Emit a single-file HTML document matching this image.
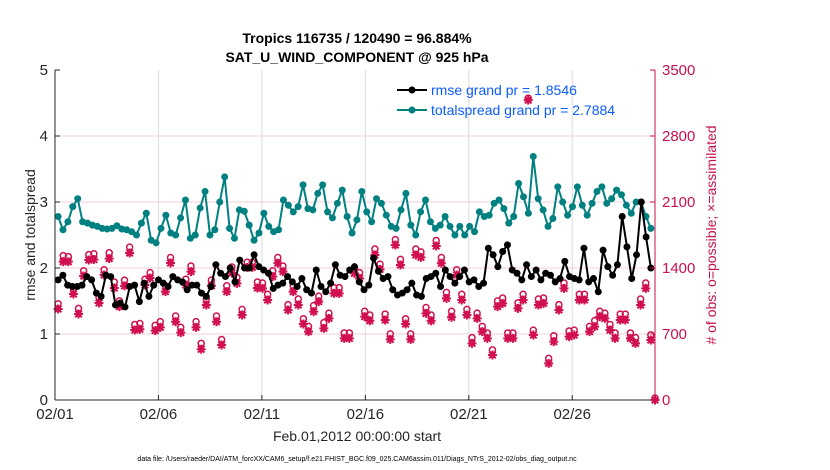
<!DOCTYPE html>
<html><head><meta charset="utf-8">
<style>
body{margin:0;background:#fff;}
svg{display:block;font-family:"Liberation Sans",Arial,sans-serif;}
</style></head>
<body>
<svg id="chart" width="830" height="470" viewBox="0 0 830 470" xmlns="http://www.w3.org/2000/svg">
<g id="grid"></g>
<g id="marks"></g>
<line x1="55" y1="70" x2="55" y2="400" stroke="#262626" stroke-width="1"/>
<line x1="55" y1="400" x2="655" y2="400" stroke="#262626" stroke-width="1"/>
<line x1="655" y1="70" x2="655" y2="400" stroke="#c8104e" stroke-width="1"/>
<g id="ticks"></g>
<text x="357" y="43" text-anchor="middle" font-size="14" font-weight="bold" fill="#000">Tropics 116735 / 120490 = 96.884%</text>
<text x="357" y="62" text-anchor="middle" font-size="14" font-weight="bold" fill="#000">SAT_U_WIND_COMPONENT @ 925 hPa</text>
<text transform="translate(35,235) rotate(-90)" text-anchor="middle" font-size="14" fill="#262626">rmse and totalspread</text>
<text transform="translate(716,235) rotate(-90)" text-anchor="middle" font-size="14" fill="#c8104e"># of obs: o=possible; ×=assimilated</text>
<text x="357" y="441" text-anchor="middle" font-size="14" fill="#262626">Feb.01,2012 00:00:00 start</text>
<text x="357" y="461" text-anchor="middle" font-size="7" fill="#000">data file: /Users/raeder/DAI/ATM_forcXX/CAM6_setup/f.e21.FHIST_BGC.f09_025.CAM6assim.011/Diags_NTrS_2012-02/obs_diag_output.nc</text>
<g>
<line x1="397" y1="90" x2="427" y2="90" stroke="#000" stroke-width="2"/>
<circle cx="412" cy="90" r="3.5" fill="#000"/>
<text x="431" y="95" font-size="14" fill="#0b5cff">rmse grand pr = 1.8546</text>
<line x1="397" y1="110" x2="427" y2="110" stroke="#008080" stroke-width="2"/>
<circle cx="412" cy="110" r="3.5" fill="#008080"/>
<text x="431" y="115" font-size="14" fill="#0b5cff">totalspread grand pr = 2.7884</text>
</g>
</svg>
<script>
const xTickLabels=["02/01","02/06","02/11","02/16","02/21","02/26"];
const xTickDays=[0,5,10,15,20,25];
const yTicks=[0,1,2,3,4,5];
const y2Ticks=[0,700,1400,2100,2800,3500];
const spread=[2.78,2.58,2.70,2.93,3.05,2.70,2.68,2.65,2.63,2.60,2.59,2.60,2.64,2.59,2.58,2.55,2.50,2.68,2.83,2.42,2.38,2.60,2.80,2.53,2.50,2.76,3.03,2.45,2.50,2.91,3.16,2.50,2.58,3.00,3.38,2.60,2.45,2.88,2.86,2.65,2.42,2.53,
2.83,2.63,2.55,2.58,3.03,2.95,2.85,2.93,3.26,2.90,2.88,3.13,3.26,2.85,2.76,2.98,3.18,2.78,2.53,2.73,3.16,2.85,2.70,3.05,2.98,2.80,2.63,2.60,2.88,3.13,2.65,2.50,2.85,3.03,2.70,2.60,2.65,2.78,2.63,2.50,2.63,
2.50,2.63,2.55,2.85,2.78,2.80,2.98,3.03,2.90,2.68,2.78,3.28,3.08,2.83,3.69,3.05,2.88,2.63,2.75,3.23,3.00,2.80,2.93,3.23,2.95,2.80,2.98,3.16,3.23,2.98,3.05,3.18,3.11,2.95,2.83,3.00,3.00,2.78,2.60];
const rmse=[1.82,1.89,1.74,1.72,1.72,1.74,1.87,1.82,1.62,1.57,1.89,1.87,1.44,1.47,1.41,1.72,1.74,1.49,1.77,1.57,1.74,1.82,1.77,1.72,1.87,1.82,1.79,1.67,1.74,1.74,1.62,1.57,1.72,2.05,1.92,1.87,2.00,1.79,2.12,2.00,2.00,2.20,2.02,1.97,1.92,
1.69,1.74,1.77,1.87,1.79,1.72,1.84,1.67,1.62,1.97,1.72,1.64,1.77,2.05,1.89,1.87,1.97,2.02,1.79,1.67,1.74,2.15,1.95,1.84,1.87,1.67,1.59,1.62,1.67,1.77,1.59,1.57,1.84,1.87,1.92,1.72,1.97,1.87,1.77,1.87,1.97,1.79,
1.82,1.72,1.77,2.30,2.20,2.02,2.25,2.35,1.97,1.92,1.82,2.05,1.87,1.97,1.82,1.92,1.89,1.79,1.84,2.10,1.87,1.84,1.82,2.30,1.79,1.84,1.64,2.27,2.02,1.89,2.05,2.78,2.32,1.84,2.20,3.00,2.47,2.00];
const assimilated=[965,1467,1467,1124,912,1315,1485,1490,1029,1326,1500,1188,990,1210,1559,742,750,1220,1294,736,770,1149,1453,830,714,1220,1361,770,538,1008,1213,830,583,1149,1347,1237,901,1407,1407,1188,
1184,1061,1308,1450,1361,955,1149,1008,806,725,937,1043,760,866,1131,1131,654,654,1343,1290,884,841,1538,1386,848,643,1644,1432,806,643,1538,1513,919,841,1633,1450,1078,877,1326,
1061,901,601,866,725,654,477,990,1025,654,654,972,1061,3180,689,1008,1025,389,619,955,1184,672,689,1061,1061,725,778,884,866,742,654,848,848,654,601,1008,1184,636,0];
const possible=[1000,1510,1500,1160,950,1350,1520,1530,1070,1360,1540,1230,1030,1250,1600,780,790,1260,1330,770,810,1190,1490,870,750,1260,1400,810,580,1050,1250,870,620,1190,1390,1280,940,1440,1440,1230,
1220,1100,1350,1490,1400,990,1190,1050,840,760,980,1080,800,900,1170,1170,690,690,1380,1330,920,880,1580,1420,890,680,1680,1470,840,680,1580,1550,960,880,1670,1490,1120,920,1360,
1100,940,640,900,760,690,510,1030,1060,690,690,1010,1100,3180,720,1050,1060,420,660,990,1220,710,720,1100,1100,760,820,920,900,780,690,890,890,690,640,1050,1220,670,0];

const NS="http://www.w3.org/2000/svg";
const X0=55,X1=655,Y0=400,Y1=70,DAYS=29;
function xScale(d){return X0+(X1-X0)*d/DAYS;}
function yScale(v){return Y0-(Y0-Y1)*v/5;}
function y2Scale(v){return Y0-(Y0-Y1)*v/3500;}
function dayOf(i,n,last){return 0.15+i*((last)-0.15)/(n-1);}
function mk(tag,attrs,parent){const e=document.createElementNS(NS,tag);for(const k in attrs)e.setAttribute(k,attrs[k]);parent.appendChild(e);return e;}
const grid=document.getElementById('grid'),marks=document.getElementById('marks'),ticks=document.getElementById('ticks');
xTickDays.forEach((d,i)=>{
  if(d>0){const g=mk('line',{x1:xScale(d),x2:xScale(d),y1:Y1,y2:Y0,stroke:'#dcdcdc','stroke-width':1},grid);
  
  }
  const t=mk('text',{x:xScale(d),y:419,'text-anchor':'middle','font-size':15,fill:'#262626'},ticks);
  t.textContent=xTickLabels[i];
  
  
  mk('line',{x1:xScale(d),x2:xScale(d),y1:Y0,y2:Y0-5,stroke:'#262626'},ticks);
});
yTicks.forEach(v=>{
  if(v>0&&v<5){const g=mk('line',{x1:X0,x2:X1,y1:yScale(v),y2:yScale(v),stroke:'#f0d0dc','stroke-width':1},grid);
  
  }
  const t=mk('text',{x:48,y:yScale(v)+5,'text-anchor':'end','font-size':15,fill:'#262626'},ticks);
  t.textContent=v;
  
  
  mk('line',{x1:X0,x2:X0+5,y1:yScale(v),y2:yScale(v),stroke:'#262626'},ticks);
});
y2Ticks.forEach(v=>{
  const t=mk('text',{x:662,y:y2Scale(v)+5,'text-anchor':'start','font-size':15,fill:'#c8104e'},ticks);
  t.textContent=v;
  
  
  mk('line',{x1:X1-5,x2:X1,y1:y2Scale(v),y2:y2Scale(v),stroke:'#c8104e'},ticks);
});
function star(cx,cy,name){
  const g=mk('g',{},marks);
  
  
  mk('path',{d:`M${cx-4.5} ${cy}H${cx+4.5}M${cx} ${cy-4.5}V${cy+4.5}M${cx-3.3} ${cy-3.3}L${cx+3.3} ${cy+3.3}M${cx-3.3} ${cy+3.3}L${cx+3.3} ${cy-3.3}`,stroke:'#d0104f','stroke-width':2},g);
  mk('circle',{cx:cx,cy:cy,r:3,fill:'#d0104f'},g);
}
assimilated.forEach((v,i)=>{
  const x=xScale(i===assimilated.length-1?29:dayOf(i,assimilated.length-1,28.8));
  star(x,y2Scale(v),'assimilated-marker');
});
possible.forEach((v,i)=>{
  const x=xScale(i===possible.length-1?29:dayOf(i,possible.length-1,28.8));
  const c=mk('circle',{cx:x,cy:y2Scale(v)-2,r:3,fill:'none',stroke:'#d0104f','stroke-width':1.5},marks);
  
  
});
function series(arr,color,name){
  const pts=arr.map((v,i)=>[xScale(dayOf(i,arr.length,28.8)),yScale(v)]);
  const p=mk('polyline',{points:pts.map(p=>p.join(',')).join(' '),fill:'none',stroke:color,'stroke-width':2,'stroke-linejoin':'round'},marks);
  
  
  pts.forEach(q=>{const c=mk('circle',{cx:q[0],cy:q[1],r:3.5,fill:color},marks);
    
    });
}
series(spread,'#008080','totalspread');
series(rmse,'#000000','rmse');
</script>
</body></html>
